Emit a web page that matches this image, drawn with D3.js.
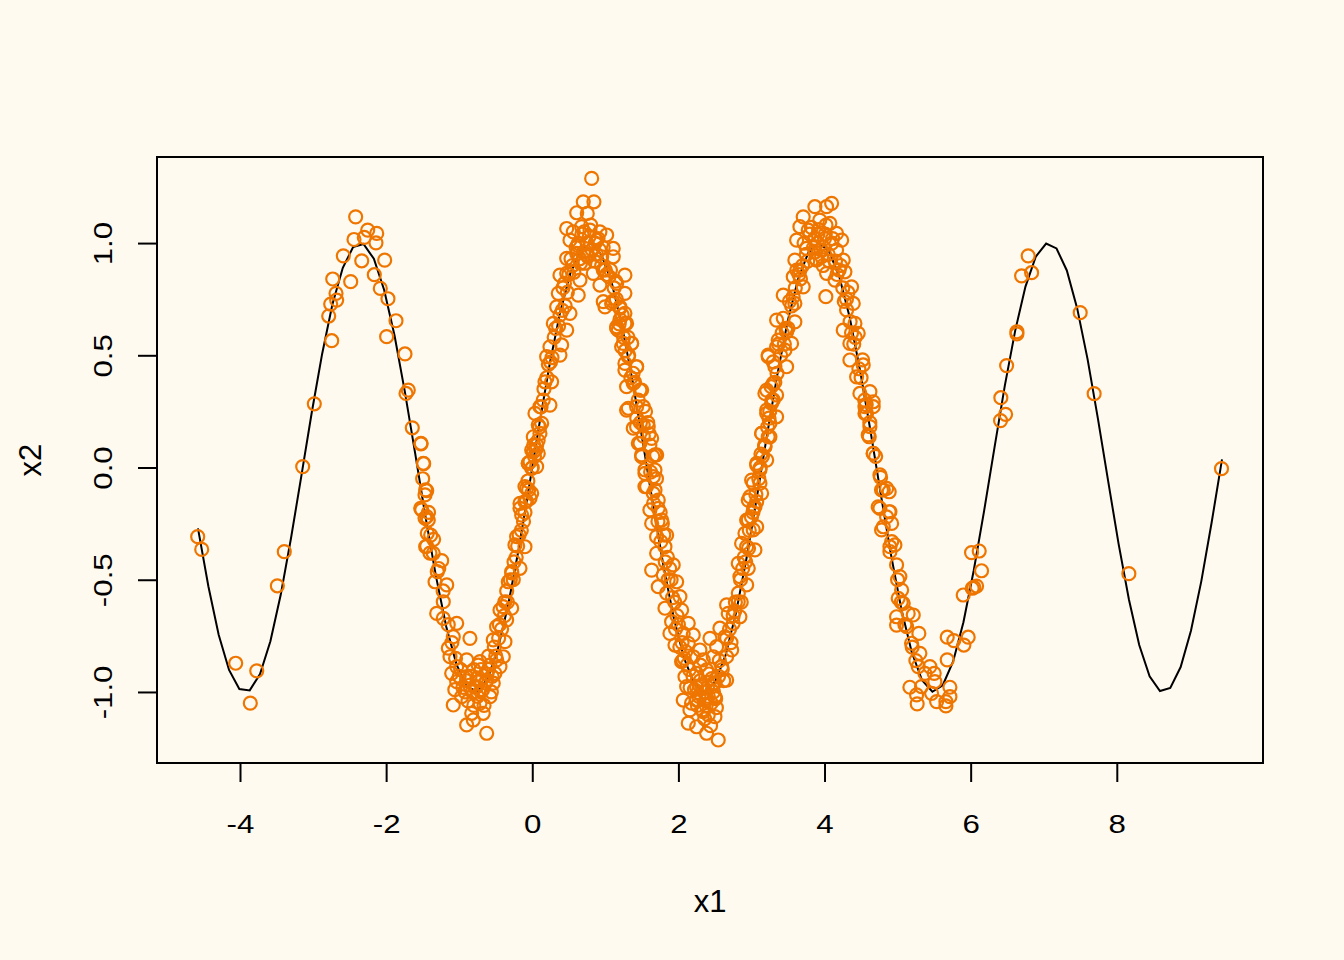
<!DOCTYPE html>
<html>
<head>
<meta charset="utf-8">
<script src="https://cdn.jsdelivr.net/npm/d3@7"></script>
<style>
  body { margin: 0; background: #FFFAF0; }
  text { font-family: "Liberation Sans", Arial, sans-serif; fill: #000; }
</style>
</head>
<body>
<div id="chart"></div>
<script>
// curve: x2 = sin(2*x1), 100 points on a regular grid
const curveX = [-4.575,-4.433,-4.292,-4.150,-4.009,-3.867,-3.726,-3.584,-3.442,-3.301,
  -3.159,-3.018,-2.876,-2.735,-2.593,-2.452,-2.310,-2.168,-2.027,-1.885,
  -1.744,-1.602,-1.461,-1.319,-1.177,-1.036,-0.894,-0.753,-0.611,-0.470,
  -0.328,-0.186,-0.045,0.097,0.238,0.380,0.521,0.663,0.804,0.946,
  1.088,1.229,1.371,1.512,1.654,1.795,1.937,2.079,2.220,2.362,
  2.503,2.645,2.786,2.928,3.070,3.211,3.353,3.494,3.636,3.777,
  3.919,4.060,4.202,4.344,4.485,4.627,4.768,4.910,5.051,5.193,
  5.335,5.476,5.618,5.759,5.901,6.042,6.184,6.326,6.467,6.609,
  6.750,6.892,7.033,7.175,7.316,7.458,7.600,7.741,7.883,8.024,
  8.166,8.307,8.449,8.591,8.732,8.874,9.015,9.157,9.298,9.440];
const curveY = [-0.271,-0.529,-0.745,-0.902,-0.987,-0.993,-0.920,-0.774,-0.566,-0.313,
  -0.035,0.245,0.506,0.727,0.890,0.982,0.996,0.930,0.791,0.588,
  0.338,0.062,-0.220,-0.483,-0.709,-0.878,-0.977,-0.998,-0.942,-0.807,
  -0.609,-0.364,-0.089,0.193,0.460,0.690,0.865,0.970,0.999,0.948,
  0.822,0.630,0.388,0.115,-0.168,-0.437,-0.671,-0.851,-0.965,-1.000,
  -0.955,-0.837,-0.651,-0.412,-0.141,0.141,0.412,0.650,0.837,0.957,
  1.000,0.964,0.851,0.670,0.435,0.167,-0.115,-0.389,-0.630,-0.822,
  -0.948,-0.999,-0.970,-0.865,-0.689,-0.459,-0.193,0.089,0.364,0.609,
  0.806,0.940,0.998,0.976,0.878,0.709,0.483,0.219,-0.063,-0.339,
  -0.588,-0.791,-0.930,-0.996,-0.982,-0.889,-0.727,-0.506,-0.245,0.036];

// scattered observations [x1, x2]
const ptsLeftTail = [[-2.417,1.117],[-2.252,1.058],[-2.129,1.043],[-2.440,1.016],[-2.299,1.025],
  [-2.139,1.001],[-2.586,0.943],[-2.334,0.921],[-2.020,0.924],[-2.162,0.859],[-2.731,0.840],
  [-2.485,0.828],[-2.080,0.798],[-2.686,0.776],[-2.677,0.746],[-2.759,0.728],[-1.975,0.752],
  [-2.786,0.675],[-1.865,0.654],[-1.993,0.583],[-2.745,0.565],[-1.742,0.506],[-1.697,0.345],
  [-1.728,0.330],[-2.983,0.284],[-1.642,0.177],[-1.523,0.105],[-1.486,0.017],[-3.142,0.004],
  [-1.459,-0.100],[-1.513,-0.189],[-1.468,-0.225],[-1.437,-0.293],[-1.459,-0.353],[-1.400,-0.381],
  [-4.579,-0.308],[-4.524,-0.365],[-3.394,-0.375],[-3.489,-0.527],[-4.059,-0.872],[-3.771,-0.906],
  [-3.859,-1.050]];
const ptsRightTail = [[6.787,0.943],[6.697,0.854],[6.834,0.868],[7.499,0.690],[6.633,0.605],
  [6.633,0.595],[6.492,0.454],[6.413,0.311],[6.478,0.237],[6.409,0.209],[7.690,0.329],
  [9.433,-0.005],[8.165,-0.473],[6.012,-0.379],[6.117,-0.372],[6.149,-0.460],[6.021,-0.538],
  [6.081,-0.528],[5.898,-0.568],[6.044,-0.534],[5.679,-0.756],[5.770,-0.771],[5.966,-0.756],
  [5.907,-0.791],[5.679,-0.857]];
const ptsTrough1 = [[-1.523,0.108],[-1.491,0.019],[-1.445,-0.103],[-1.468,-0.122],[-1.527,-0.182],
  [-1.445,-0.219],[-1.423,-0.234],[-1.390,-0.301],[-1.445,-0.350],[-1.355,-0.382],[-1.240,-0.415],
  [-1.300,-0.464],[-1.331,-0.509],[-1.171,-0.523],[-1.218,-0.598],[-1.308,-0.650],[-1.218,-0.672],
  [-1.034,-0.694],[-1.081,-0.754],[-0.853,-0.761],[-1.149,-0.805],[-1.126,-0.843],[-1.034,-0.887],
  [-1.103,-0.917],[-1.034,-0.954],[-0.898,-0.857],[-0.716,-0.865],[-0.898,-0.932],[-0.966,-1.021],
  [-1.081,-1.058],[-0.829,-1.095],[-0.898,-1.147],[-0.807,-1.125],[-0.624,-1.184],[-0.671,-1.095],
  [-0.716,-1.050],[-0.579,-1.021],[-0.761,-0.976],[-0.624,-0.947],[-0.534,-0.961],[-0.511,-0.917],
  [-0.442,-0.887],[-0.488,-0.857],[-0.397,-0.843],[-0.534,-0.768],[-0.374,-0.776],[-0.488,-0.709],
  [-0.351,-0.679],[-0.442,-0.635],[-0.282,-0.627],[-0.374,-0.598],[-0.328,-0.509],[-0.282,-0.464],
  [-0.168,-0.449],[-0.237,-0.345],[-0.100,-0.353],[-0.214,-0.308],[-0.145,-0.212],[-0.100,-0.152],
  [-0.168,-0.182],[-0.031,-0.137],[-0.077,-0.093],[-0.008,-0.004],[-0.031,0.026],[0.060,0.100],
  [0.105,0.152],[0.082,0.189],[0.014,0.070],[-0.055,0.019],
  [-0.78,-0.98],[-0.72,-0.95],[-0.85,-0.93],[-0.68,-0.99],[-0.75,-1.02],[-0.82,-1.0],[-0.62,-0.92],
  [-0.9,-0.95],[-0.7,-0.9],[-0.66,-1.06],[-0.95,-0.98],[-0.58,-0.88],[-0.88,-1.04],[-0.8,-0.9],
  [-0.74,-0.88],[-1.0,-0.93],[-1.06,-0.99],[-0.55,-0.93],[-0.6,-0.84],[-0.52,-0.8],
  [-0.45,-0.7],[-0.4,-0.62],[-0.35,-0.55],[-0.3,-0.5],[-0.25,-0.42],[-0.2,-0.35],[-0.15,-0.28],
  [-0.1,-0.2],[-0.05,-0.1],[0.0,0.0],[0.05,0.08],[0.1,0.18],[-0.38,-0.66],[-0.28,-0.47],
  [-0.18,-0.3],[-0.08,-0.15],[0.03,0.05],
  [-1.5,-0.05],[-1.42,-0.2],[-1.35,-0.32],[-1.28,-0.45],[-1.22,-0.55],[-1.15,-0.7],[-1.1,-0.78],
  [-1.05,-0.85],
  [-0.98,-0.9],[-0.92,-1.0],[-0.86,-0.97],[-0.8,-1.06],[-0.76,-0.94],[-0.7,-1.0],[-0.64,-0.96],
  [-0.6,-0.9],[-0.56,-1.0],[-0.5,-0.84],[-0.46,-0.76],[-0.42,-0.72],[-0.34,-0.6],[-0.26,-0.5],
  [-0.22,-0.4],[-0.12,-0.24],[-0.06,-0.06],[0.02,0.1],[0.08,0.12],[0.12,0.27],[0.16,0.35]];
const ptsPeak1 = [[0.813,1.288],[0.844,1.184],[0.698,1.184],[0.608,1.135],[0.753,1.132],[0.471,1.065],
  [0.561,1.050],[0.676,1.073],[0.790,1.058],[0.926,1.050],[1.018,1.036],[0.516,1.013],[0.629,0.999],
  [0.881,1.013],[1.108,0.976],[1.108,0.939],[0.471,0.932],[0.608,0.954],[0.744,0.947],[0.950,0.939],
  [0.379,0.857],[0.471,0.865],[0.835,0.865],[0.972,0.880],[1.268,0.857],[0.653,0.835],[0.926,0.813],
  [1.155,0.820],[0.356,0.776],[0.629,0.768],[1.268,0.776],[0.972,0.739],[1.086,0.731],[1.200,0.709],
  [0.334,0.716],[0.516,0.687],[1.268,0.687],[0.288,0.642],[0.471,0.612],[1.155,0.627],[1.291,0.642],
  [1.177,0.612],[0.242,0.538],[0.402,0.546],[1.245,0.553],[1.360,0.553],[0.197,0.494],[0.379,0.501],
  [1.314,0.494],[1.428,0.449],[1.268,0.434],[0.174,0.382],[0.265,0.382],[1.382,0.375],[1.497,0.345],
  [0.105,0.271],[0.242,0.278],[1.314,0.264],[1.519,0.271],[0.037,0.241],[0.129,0.197],[1.428,0.182],
  [1.587,0.182],[0.014,0.137],[1.474,0.108],[1.634,0.130],[-0.008,0.078],[0.082,0.063],[1.679,0.056],
  [1.497,0.056],[-0.055,0.019],[0.060,0.004],[1.542,-0.011],[1.656,-0.041],[-0.100,-0.085],
  [-0.008,-0.115],[1.565,-0.085],[1.724,-0.145],[-0.168,-0.160],
  [0.75,1.0],[0.82,0.97],[0.7,0.96],[0.88,0.95],[0.65,0.93],[0.95,0.9],[0.6,0.98],[0.78,1.03],
  [0.9,1.02],[0.68,1.04],[0.55,0.9],[1.0,0.88],[0.72,0.91],[0.85,0.92],[0.5,0.86],[1.05,0.85],
  [0.42,0.8],[0.45,0.72],[1.12,0.8],[1.15,0.75],[0.38,0.68],[0.3,0.58],[0.25,0.47],[1.2,0.66],
  [1.25,0.58],[0.2,0.4],[0.15,0.3],[1.32,0.5],[1.38,0.42],[1.45,0.3],
  [0.22,0.46],[0.27,0.49],[0.32,0.62],[0.36,0.63],[0.41,0.70],[0.44,0.82],[0.48,0.78],[0.53,0.93],
  [0.57,0.87],[0.62,0.99],[0.66,0.91],[0.71,1.05],[0.76,0.94],[0.8,1.08],[0.86,1.0],[0.92,0.97],
  [0.97,0.98],[1.02,0.86],[1.07,0.88],[1.1,0.74],[1.14,0.83],[1.19,0.64],[1.23,0.68],[1.27,0.52],
  [1.31,0.58],[1.35,0.40],[1.4,0.38],[1.43,0.22],[1.48,0.2],[1.52,0.14]];
const ptsTrough2 = [[0.995,0.716],[1.200,0.716],[1.155,0.620],[1.268,0.642],[1.223,0.538],[1.360,0.553],
  [1.268,0.464],[1.428,0.449],[1.291,0.360],[1.474,0.345],[1.291,0.256],[1.428,0.271],[1.382,0.175],
  [1.519,0.189],[1.451,0.108],[1.610,0.100],[1.702,0.056],[1.497,0.048],[1.542,-0.026],[1.679,-0.011],
  [1.542,-0.085],[1.656,-0.115],[1.724,-0.182],[1.610,-0.189],[1.634,-0.249],[1.771,-0.234],
  [1.702,-0.308],[1.839,-0.301],[1.816,-0.353],[1.702,-0.382],[1.634,-0.457],[1.929,-0.434],
  [1.793,-0.479],[1.724,-0.531],[1.976,-0.509],[1.839,-0.560],[2.021,-0.575],[1.816,-0.627],
  [2.044,-0.635],[1.907,-0.687],[2.135,-0.694],[1.884,-0.739],[2.066,-0.739],[2.203,-0.746],
  [1.953,-0.791],[2.135,-0.783],[2.044,-0.865],[2.203,-0.843],[2.295,-0.813],[2.432,-0.761],
  [2.523,-0.798],[2.340,-0.857],[2.477,-0.843],[2.090,-0.932],[2.250,-0.917],[2.386,-0.902],
  [2.592,-0.887],[2.660,-0.843],[2.113,-0.976],[2.295,-0.976],[2.477,-0.961],[2.660,-0.947],
  [2.066,-1.036],[2.250,-1.036],[2.386,-1.028],[2.500,-1.021],[2.158,-1.080],[2.340,-1.088],
  [2.500,-1.110],[2.135,-1.139],[2.250,-1.155],[2.386,-1.184],[2.545,-1.214],[2.409,-1.102],
  [2.637,-0.754],[2.729,-0.813],[2.568,-0.716],[2.750,-0.694],[2.682,-0.650],[2.842,-0.665],
  [2.660,-0.612],[2.819,-0.598],[2.934,-0.523],[2.842,-0.486],[2.956,-0.449],[2.819,-0.427],
  [2.934,-0.353],[3.047,-0.367],[2.911,-0.293],[3.071,-0.264],[2.956,-0.234],[3.047,-0.175],
  [2.979,-0.130],[3.139,-0.115],[3.024,-0.070],[3.116,-0.011],[3.071,0.019],[3.208,0.033],
  [3.184,0.093],[3.229,0.137],[3.139,0.152],[3.253,0.197],[3.208,0.256],[3.298,0.301],[3.184,0.330],
  [3.298,0.375],[3.321,0.449],[3.229,0.494],[3.344,0.538],[3.344,0.657],
  [2.3,-0.95],[2.35,-1.0],[2.4,-0.98],[2.45,-1.05],[2.28,-1.02],[2.5,-0.96],[2.2,-0.93],[2.55,-0.93],
  [2.38,-1.06],[2.42,-0.92],[2.33,-1.08],[2.25,-0.98],[2.48,-1.0],[2.6,-0.9],[2.15,-0.9],[2.36,-1.12],
  [2.44,-1.15],[2.18,-1.05],[2.52,-1.07],[2.3,-0.88],
  [1.55,0.25],[1.6,0.15],[1.65,0.05],[1.7,-0.05],[1.75,-0.2],[1.8,-0.3],[1.85,-0.4],[1.9,-0.5],
  [1.95,-0.6],[2.0,-0.7],[2.05,-0.78],[2.1,-0.82],[1.58,0.2],[1.68,-0.1],[1.78,-0.25],[1.88,-0.45],
  [1.98,-0.66],[2.08,-0.85],
  [2.7,-0.72],[2.78,-0.6],[2.85,-0.5],[2.9,-0.4],[2.97,-0.28],[3.03,-0.18],[3.1,-0.05],[3.15,0.05],
  [3.22,0.18],[3.28,0.3],[3.35,0.42],[3.4,0.5],[2.75,-0.66],[2.88,-0.45],[3.0,-0.22],[3.12,0.0],
  [3.25,0.25],
  [1.62,-0.02],[1.66,-0.16],[1.72,-0.24],[1.76,-0.33],[1.82,-0.42],[1.86,-0.5],[1.92,-0.58],
  [1.96,-0.72],[2.02,-0.8],[2.06,-0.86],[2.12,-0.88],[2.16,-0.98],[2.22,-0.99],[2.26,-1.06],
  [2.32,-0.97],[2.37,-1.04],[2.41,-1.02],[2.46,-0.94],[2.51,-1.03],[2.56,-0.86],[2.62,-0.95],
  [2.66,-0.76],[2.72,-0.78],[2.77,-0.64],[2.82,-0.56],[2.86,-0.6],[2.92,-0.42],[2.96,-0.36],
  [3.02,-0.2],[3.06,-0.12],[3.13,0.06],[3.18,0.1],[3.24,0.22],[3.27,0.36],[3.32,0.38],[3.37,0.55]];
const ptsPeak2 = [[3.868,1.162],[4.097,1.177],[4.028,1.162],[3.708,1.117],[3.935,1.102],[4.073,1.088],
  [3.663,1.073],[3.777,1.058],[4.165,1.043],[3.618,1.013],[3.868,1.021],[4.234,1.013],[3.982,0.983],
  [3.754,0.976],[4.165,0.969],[3.594,0.924],[3.891,0.924],[4.256,0.924],[3.663,0.880],[4.028,0.865],
  [4.279,0.872],[4.142,0.835],[3.572,0.850],[4.370,0.805],[3.708,0.805],[3.435,0.768],[4.018,0.761],
  [3.594,0.731],[4.393,0.731],[4.302,0.702],[3.435,0.665],[3.594,0.649],[4.416,0.642],[4.256,0.612],
  [3.481,0.605],[4.461,0.598],[3.366,0.568],[3.549,0.553],[4.347,0.553],[3.229,0.501],[3.458,0.523],
  [4.347,0.479],[4.529,0.457],[3.298,0.471],[3.481,0.449],[4.439,0.404],[3.208,0.345],[3.344,0.323],
  [4.621,0.338],[4.484,0.330],[3.276,0.286],[4.666,0.293],[3.208,0.241],[3.344,0.226],[4.575,0.241],
  [3.139,0.152],[3.253,0.137],[4.598,0.145],[4.666,0.063],[3.184,0.093],[3.071,0.011],[4.758,-0.033],
  [3.002,-0.056],[3.116,-0.070],[4.804,-0.100],[4.735,-0.175],[4.895,-0.197],[2.956,-0.145],
  [3.071,-0.152],[2.934,-0.234],[4.804,-0.264],[3.024,-0.278],[4.895,-0.353],[2.865,-0.338],
  [3.9,1.0],[3.95,0.97],[4.0,1.02],[3.85,0.98],[4.05,0.95],[3.8,1.04],[4.1,1.0],[3.75,0.95],
  [4.15,0.92],[3.7,0.9],[3.92,1.06],[4.02,1.08],[3.88,0.93],[4.2,0.88],[3.65,0.86],[3.98,0.9],
  [4.25,0.8],[3.6,0.8],[3.55,0.72],[4.3,0.75],[4.35,0.65],[3.5,0.62],[3.45,0.55],[4.4,0.55],
  [3.42,0.6],[3.47,0.62],[3.52,0.74],[3.57,0.76],[3.62,0.88],[3.67,0.84],[3.72,1.0],[3.77,0.92],
  [3.82,1.07],[3.87,0.96],[3.91,1.04],[3.96,0.94],[4.01,1.04],[4.06,0.92],[4.11,1.02],[4.17,0.86],
  [4.22,0.9],[4.27,0.74],[4.32,0.78],[4.37,0.6],[4.42,0.58],[4.47,0.44],[4.52,0.48],[4.57,0.28]];
const ptsTrough3 = [[4.553,0.271],[4.666,0.271],[4.553,0.241],[4.621,0.182],[4.612,0.137],[4.666,0.063],
  [4.767,-0.044],[4.850,-0.093],[4.885,-0.108],[4.758,-0.182],[4.885,-0.197],[4.781,-0.278],
  [4.918,-0.249],[4.963,-0.345],[4.895,-0.375],[4.986,-0.434],[5.031,-0.486],[5.055,-0.546],
  [5.008,-0.583],[5.077,-0.605],[5.145,-0.650],[5.214,-0.657],[4.986,-0.665],[4.986,-0.702],
  [5.123,-0.709],[5.291,-0.739],[5.191,-0.783],[5.305,-0.828],[5.282,-0.887],
  [5.168,-0.979],[5.260,-1.013],[5.268,-1.053],[5.442,-0.887],[5.501,-0.917],[5.510,-0.954],
  [5.465,-1.006],[5.534,-1.043],[5.661,-1.043],[5.716,-0.979],[5.716,-1.021],[5.661,-1.062],
  [5.328,-0.976],[5.374,-0.917],
  [4.5,0.4],[4.55,0.3],[4.62,0.2],[4.7,0.05],[4.78,-0.1],[4.85,-0.22],[4.92,-0.33],[5.0,-0.5],
  [5.05,-0.6],[5.1,-0.7],[5.2,-0.8],[5.25,-0.86]];

const xTicks = [-4, -2, 0, 2, 4, 6, 8];
const yTicks = [-1.0, -0.5, 0.0, 0.5, 1.0];
const xLabel = 'x1';
const yLabel = 'x2';

const points = [].concat(ptsLeftTail, ptsRightTail, ptsTrough1, ptsPeak1, ptsTrough2, ptsPeak2, ptsTrough3);

const W = 1344, H = 960;
const margin = { top: 157, right: 81, bottom: 197, left: 157 };

const svg = d3.select('#chart').append('svg')
  .attr('width', W)
  .attr('height', H);

svg.append('rect').attr('width', W).attr('height', H).attr('fill', '#FFFAF0');

// R style: 4% padding on the data range
const x = d3.scaleLinear().domain([-5.136, 10.001]).range([margin.left, W - margin.right]);
const y = d3.scaleLinear().domain([-1.3165, 1.3835]).range([H - margin.bottom, margin.top]);

// curve
const line = d3.line().x(d => x(d[0])).y(d => y(d[1]));
svg.append('path')
  .datum(curveX.map((v, i) => [v, curveY[i]]))
  .attr('d', line)
  .attr('fill', 'none')
  .attr('stroke', '#000')
  .attr('stroke-width', 2);

// points (open circles, pch = 1)
svg.append('g').selectAll('circle')
  .data(points)
  .enter().append('circle')
  .attr('cx', d => x(d[0]))
  .attr('cy', d => y(d[1]))
  .attr('r', 6.5)
  .attr('fill', 'none')
  .attr('stroke', '#EE7600')
  .attr('stroke-width', 2.2);

// box
svg.append('rect')
  .attr('x', margin.left)
  .attr('y', margin.top)
  .attr('width', W - margin.left - margin.right)
  .attr('height', H - margin.top - margin.bottom)
  .attr('fill', 'none')
  .attr('stroke', '#000')
  .attr('stroke-width', 2);

const fmtY = d => (d < 0 ? '-' : '') + d3.format('.1f')(Math.abs(d));

// x axis
const gx = svg.append('g')
  .attr('transform', `translate(0,${H - margin.bottom})`)
  .call(d3.axisBottom(x).tickValues(xTicks).tickSize(19));
gx.select('.domain').remove();
gx.selectAll('line').attr('stroke', '#000').attr('stroke-width', 2);
gx.selectAll('text')
  .attr('y', 0).attr('dy', 0)
  .attr('transform', 'translate(0,70) scale(1.25,1)')
  .style('font-size', '25px')
  .style('font-family', '"Liberation Sans", Arial, sans-serif')
  .text(d => (d < 0 ? '-' : '') + Math.abs(d));

// y axis
const gy = svg.append('g')
  .attr('transform', `translate(${margin.left},0)`)
  .call(d3.axisLeft(y).tickValues(yTicks).tickSize(19));
gy.select('.domain').remove();
gy.selectAll('line').attr('stroke', '#000').attr('stroke-width', 2);
gy.selectAll('text')
  .attr('x', 0).attr('y', 0).attr('dy', 0)
  .attr('transform', 'rotate(-90) translate(0,-45) scale(1.25,1)')
  .attr('text-anchor', 'middle')
  .style('font-size', '25px')
  .style('font-family', '"Liberation Sans", Arial, sans-serif')
  .text(fmtY);

// axis titles
svg.append('text')
  .attr('x', (margin.left + W - margin.right) / 2)
  .attr('y', 912)
  .attr('text-anchor', 'middle')
  .style('font-size', '31px')
  .text(xLabel);

svg.append('text')
  .attr('transform', `translate(41,${(margin.top + H - margin.bottom) / 2}) rotate(-90)`)
  .attr('text-anchor', 'middle')
  .style('font-size', '31px')
  .text(yLabel);
</script>
</body>
</html>
